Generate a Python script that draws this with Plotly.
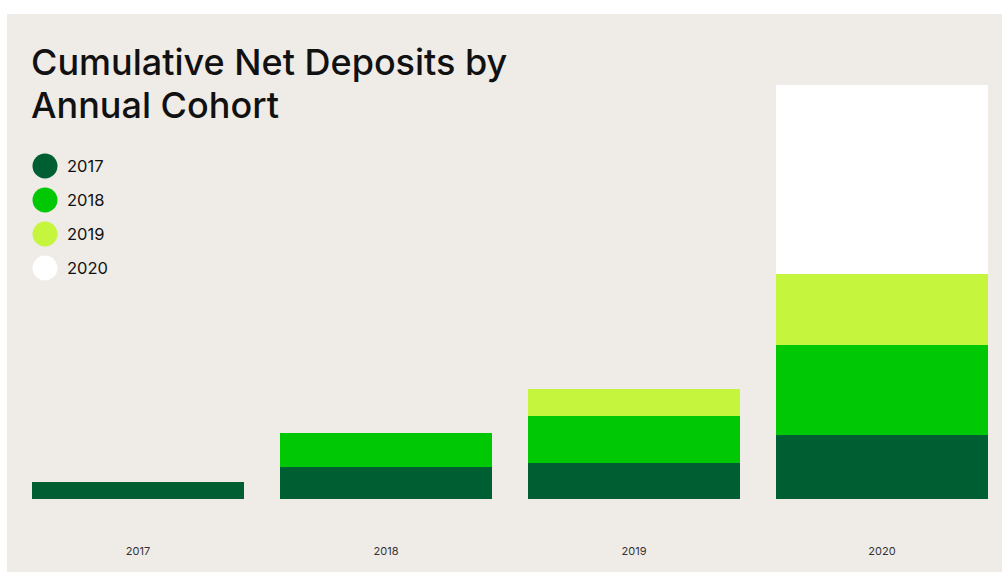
import plotly.graph_objects as go

# ---- data (relative units) ----
years = ["2017", "2018", "2019", "2020"]
cohorts = ["2017", "2018", "2019", "2020"]
cohort_2017 = [17, 32, 36, 64]
cohort_2018 = [0, 34, 47, 90]
cohort_2019 = [0, 0, 27, 71]
cohort_2020 = [0, 0, 0, 189]
series = [cohort_2017, cohort_2018, cohort_2019, cohort_2020]
colors = ["#005F32", "#00C805", "#C5F53D", "#FFFFFF"]
title_lines = ["Cumulative Net Deposits by", "Annual Cohort"]

W, H = 1002, 572
ML, MR, MT, MB = 0, 0, 14, 73
PW, PH = W - ML - MR, H - MT - MB


def px(x):
    return (x - ML) / PW


def py(y):
    return (H - MB - y) / PH


BG = "#EFEBE7"
FONT = "Inter"

fig = go.Figure()
for name, vals, col in zip(cohorts, series, colors):
    fig.add_trace(go.Bar(
        x=years, y=vals, name=name, marker=dict(color=col, line=dict(width=0)),
        width=0.855, showlegend=False, hoverinfo="x+y+name",
    ))

shapes = [dict(type="rect", xref="paper", yref="paper", x0=px(7), x1=1.0,
               y0=py(H), y1=py(14), fillcolor=BG, line=dict(width=0), layer="below")]
annotations = []
for i, (name, col) in enumerate(zip(cohorts, colors)):
    cy = 166 + 34 * i
    shapes.append(dict(type="circle", xref="paper", yref="paper",
                       x0=px(45 - 12.5), x1=px(45 + 12.5),
                       y0=py(cy + 12.5), y1=py(cy - 12.5),
                       fillcolor=col, line=dict(width=0), layer="above"))
    annotations.append(dict(text=name, xref="paper", yref="paper", x=px(65), y=py(cy),
                            xanchor="left", yanchor="middle", showarrow=False,
                            font=dict(family=FONT, size=16.5, color="#111111")))

for i, line in enumerate(title_lines):
    annotations.append(dict(text=line, xref="paper", yref="paper", x=px(29), y=py(62 + 43 * i),
                            xanchor="left", yanchor="middle", showarrow=False,
                            font=dict(family=FONT, size=36, color="#111111", weight=500)))

fig.update_layout(
    width=W, height=H,
    margin=dict(l=ML, r=MR, t=MT, b=MB),
    paper_bgcolor="#FFFFFF", plot_bgcolor="rgba(0,0,0,0)",
    barmode="stack", bargap=0.145,
    shapes=shapes, annotations=annotations,
    xaxis=dict(type="category", range=[-138 / 248, (W - 138) / 248], showgrid=False,
               zeroline=False, showline=False, ticks="", ticklabelstandoff=44,
               tickfont=dict(family=FONT, size=11, color="#333333")),
    yaxis=dict(range=[0, PH], visible=False, showgrid=False),
    font=dict(family=FONT),
)

fig.write_html("out.html")
